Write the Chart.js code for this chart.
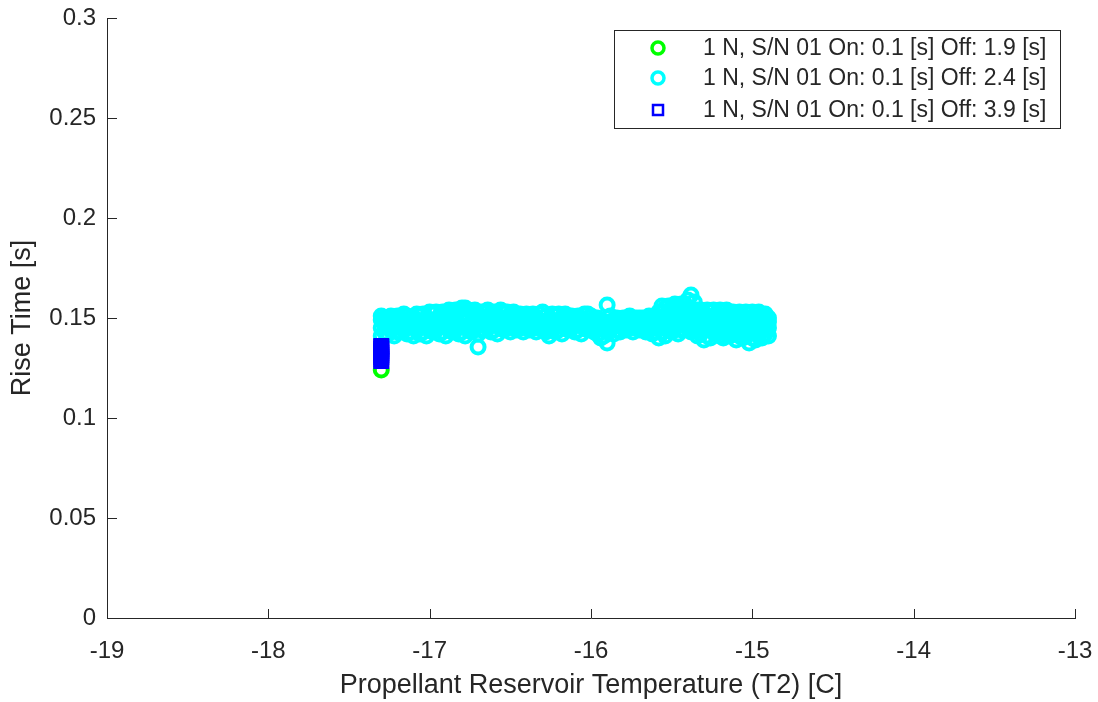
<!DOCTYPE html>
<html>
<head>
<meta charset="utf-8">
<script src="https://cdn.jsdelivr.net/npm/chart.js@4"></script>
<style>
  html, body { margin: 0; padding: 0; background: #fff; }
  #wrap { width: 1098px; height: 702px; position: relative; }
</style>
</head>
<body>
<div id="wrap"><canvas id="riseChart" width="1098" height="702"></canvas></div>
<script>
// Series labels
const seriesNames = [
    '1 N, S/N 01 On: 0.1 [s] Off: 1.9 [s]',
    '1 N, S/N 01 On: 0.1 [s] Off: 2.4 [s]',
    '1 N, S/N 01 On: 0.1 [s] Off: 3.9 [s]'
];

// Off 1.9 s (green)
const greenTemp = [-17.30];
const greenRise = [0.124];

// Off 3.9 s (blue squares, stacked at one temperature)
const blueTemp = [-17.30, -17.30, -17.30, -17.30, -17.30, -17.30, -17.30, -17.30, -17.30];
const blueRise = [0.1285, 0.1295, 0.1305, 0.1315, 0.1325, 0.1335, 0.1345, 0.1355, 0.1360];

// Off 2.4 s (cyan) - temperature columns and the rise times read at each
const cyanTemp = [
    -17.30, -17.26, -17.22, -17.18, -17.14, -17.10, -17.06, -17.02, -16.98, -16.94,
    -16.90, -16.86, -16.82, -16.78, -16.74, -16.70, -16.66, -16.62, -16.58, -16.54,
    -16.50, -16.46, -16.42, -16.38, -16.34, -16.30, -16.26, -16.22, -16.18, -16.14,
    -16.10, -16.06, -16.02, -15.98, -15.94, -15.90, -15.86, -15.82, -15.78, -15.74,
    -15.70, -15.66, -15.62, -15.58, -15.54, -15.50, -15.46, -15.42, -15.38, -15.34,
    -15.30, -15.26, -15.22, -15.18, -15.14, -15.10, -15.06, -15.02, -14.98, -14.94,
    -14.90
];
const cyanRise = [
    [0.141, 0.145, 0.149, 0.151], [0.142, 0.146, 0.150], [0.141, 0.145, 0.149], [0.143, 0.147, 0.150],
    [0.142, 0.146, 0.151], [0.141, 0.145, 0.149], [0.142, 0.147, 0.151], [0.141, 0.145, 0.150],
    [0.143, 0.147, 0.152], [0.142, 0.146, 0.151], [0.141, 0.146, 0.152], [0.143, 0.148, 0.153],
    [0.142, 0.147, 0.154], [0.141, 0.146, 0.151, 0.155], [0.143, 0.148, 0.153], [0.1355, 0.142, 0.147, 0.152],
    [0.144, 0.148, 0.153], [0.143, 0.147, 0.152], [0.142, 0.146, 0.151], [0.144, 0.149, 0.153],
    [0.143, 0.147, 0.152], [0.144, 0.148, 0.151], [0.143, 0.147, 0.150], [0.144, 0.148, 0.151],
    [0.143, 0.146, 0.150], [0.144, 0.148, 0.153], [0.141, 0.145, 0.149], [0.143, 0.147, 0.151],
    [0.142, 0.146, 0.150], [0.144, 0.148, 0.151], [0.143, 0.147, 0.150], [0.142, 0.146, 0.149],
    [0.144, 0.148, 0.152], [0.143, 0.147, 0.150], [0.140, 0.145, 0.149], [0.1375, 0.143, 0.147, 0.1565],
    [0.142, 0.146, 0.149], [0.143, 0.146, 0.149], [0.144, 0.147, 0.150], [0.143, 0.146, 0.149],
    [0.144, 0.147, 0.150], [0.143, 0.146, 0.149], [0.142, 0.146, 0.150], [0.140, 0.145, 0.149, 0.153],
    [0.141, 0.146, 0.151, 0.155], [0.143, 0.147, 0.152, 0.155], [0.142, 0.147, 0.151, 0.156], [0.144, 0.148, 0.153, 0.157],
    [0.143, 0.147, 0.152, 0.1615], [0.141, 0.146, 0.150, 0.154], [0.139, 0.144, 0.149, 0.152], [0.140, 0.145, 0.149, 0.153],
    [0.142, 0.146, 0.150, 0.152], [0.140, 0.145, 0.149, 0.153], [0.141, 0.146, 0.150, 0.153], [0.139, 0.143, 0.147, 0.152],
    [0.140, 0.145, 0.149, 0.151], [0.1375, 0.142, 0.147, 0.152], [0.139, 0.144, 0.148, 0.152], [0.140, 0.145, 0.149, 0.151],
    [0.141, 0.145, 0.148, 0.150]
];

// second pass of cyan readings, between the columns above
const cyanTempMid = [
    -17.28, -17.24, -17.20, -17.16, -17.12, -17.08, -17.04, -17.00, -16.96, -16.92,
    -16.88, -16.84, -16.80, -16.76, -16.72, -16.68, -16.64, -16.60, -16.56, -16.52,
    -16.48, -16.44, -16.40, -16.36, -16.32, -16.28, -16.24, -16.20, -16.16, -16.12,
    -16.08, -16.04, -16.00, -15.96, -15.92, -15.88, -15.84, -15.80, -15.76, -15.72,
    -15.68, -15.64, -15.60, -15.56, -15.52, -15.48, -15.44, -15.40, -15.36, -15.32,
    -15.28, -15.24, -15.20, -15.16, -15.12, -15.08, -15.04, -15.00, -14.96, -14.92
];
const cyanRiseMid = [
    [0.143, 0.147, 0.150], [0.144, 0.148, 0.151], [0.143, 0.147, 0.151], [0.144, 0.148, 0.152],
    [0.143, 0.147, 0.150], [0.144, 0.149, 0.152], [0.143, 0.148, 0.152], [0.144, 0.149, 0.153],
    [0.144, 0.149, 0.153], [0.143, 0.148, 0.153], [0.144, 0.150, 0.154], [0.144, 0.149, 0.154],
    [0.143, 0.149, 0.155], [0.144, 0.149, 0.154], [0.145, 0.150, 0.154], [0.144, 0.149, 0.153],
    [0.145, 0.150, 0.154], [0.144, 0.149, 0.153], [0.145, 0.150, 0.154], [0.145, 0.150, 0.153],
    [0.145, 0.150, 0.153], [0.145, 0.149, 0.152], [0.145, 0.149, 0.152], [0.145, 0.150, 0.152],
    [0.145, 0.149, 0.152], [0.143, 0.147, 0.151], [0.144, 0.149, 0.152], [0.144, 0.148, 0.152],
    [0.145, 0.149, 0.152], [0.145, 0.149, 0.151], [0.144, 0.148, 0.151], [0.145, 0.149, 0.152],
    [0.144, 0.148, 0.151], [0.142, 0.146, 0.150], [0.141, 0.145, 0.148], [0.144, 0.148, 0.151],
    [0.144, 0.147, 0.150], [0.145, 0.148, 0.150], [0.145, 0.148, 0.151], [0.145, 0.148, 0.150],
    [0.145, 0.148, 0.150], [0.144, 0.148, 0.151], [0.143, 0.147, 0.151], [0.143, 0.148, 0.153, 0.156],
    [0.144, 0.149, 0.153, 0.156], [0.145, 0.149, 0.153, 0.157], [0.144, 0.149, 0.154, 0.157], [0.145, 0.150, 0.155, 0.159],
    [0.144, 0.149, 0.154, 0.158], [0.142, 0.147, 0.151, 0.154], [0.141, 0.146, 0.151, 0.154], [0.143, 0.147, 0.151, 0.154],
    [0.141, 0.147, 0.151, 0.154], [0.142, 0.147, 0.151, 0.154], [0.142, 0.146, 0.150, 0.153], [0.141, 0.146, 0.150, 0.153],
    [0.141, 0.145, 0.150, 0.153], [0.140, 0.145, 0.149, 0.153], [0.141, 0.146, 0.150, 0.153], [0.142, 0.146, 0.150, 0.152]
];

// Axis ticks
const xTicks = [-19, -18, -17, -16, -15, -14, -13];
const yTicks = [0, 0.05, 0.1, 0.15, 0.2, 0.25, 0.3];

const axisColor = '#262626';
const fontName = '"Liberation Sans", Arial, sans-serif';

function toPoints(xs, ys) {
    return xs.map((x, i) => ({ x: x, y: ys[i] }));
}

function columnPoints(temps, rises) {
    let pts = [];
    temps.forEach((t, i) => {
        rises[i].forEach(r => pts.push({ x: t, y: r }));
    });
    return pts;
}

const cyanPoints = columnPoints(cyanTemp, cyanRise).concat(columnPoints(cyanTempMid, cyanRiseMid));

// Inward tick marks, MATLAB style
const innerTicks = {
    id: 'innerTicks',
    afterDraw(chart) {
        const ctx = chart.ctx;
        const xs = chart.scales.x;
        const ys = chart.scales.y;
        ctx.save();
        ctx.strokeStyle = axisColor;
        ctx.lineWidth = 1;
        ctx.beginPath();
        xTicks.forEach(v => {
            const px = Math.round(xs.getPixelForValue(v)) + 0.5;
            ctx.moveTo(px, ys.bottom);
            ctx.lineTo(px, ys.bottom - 9);
        });
        yTicks.forEach(v => {
            const py = Math.round(ys.getPixelForValue(v)) + 0.5;
            ctx.moveTo(xs.left, py);
            ctx.lineTo(xs.left + 10, py);
        });
        ctx.stroke();
        ctx.restore();
    }
};

// Boxed legend inside the axes
const boxLegend = {
    id: 'boxLegend',
    afterDraw(chart) {
        const ctx = chart.ctx;
        const left = 614, top = 30, w = 446, h = 98;
        ctx.save();
        ctx.fillStyle = '#fff';
        ctx.fillRect(left, top, w, h);
        ctx.strokeStyle = axisColor;
        ctx.lineWidth = 1;
        ctx.strokeRect(left + 0.5, top + 0.5, w, h);
        const rows = [48, 78, 110];
        chart.data.datasets.forEach((ds, i) => {
            const y = rows[i];
            ctx.strokeStyle = ds.borderColor;
            ctx.beginPath();
            if (ds.pointStyle === 'rect') {
                ctx.lineWidth = 2.5;
                ctx.rect(658 - 5, y - 5, 10, 10);
            } else {
                ctx.lineWidth = 3.5;
                ctx.arc(658, y, 6, 0, Math.PI * 2);
            }
            ctx.stroke();
            ctx.fillStyle = axisColor;
            ctx.font = '23px ' + fontName;
            ctx.textBaseline = 'middle';
            ctx.textAlign = 'left';
            ctx.fillText(seriesNames[i], 703, y + 1);
        });
        ctx.restore();
    }
};

const riseCanvas = document.getElementById('riseChart');

let riseChart = new Chart(riseCanvas, {
    type: 'scatter',
    data: {
        datasets: [{
            label: seriesNames[0],
            data: toPoints(greenTemp, greenRise),
            borderColor: '#00ff00',
            backgroundColor: 'rgba(0,0,0,0)',
            pointStyle: 'circle',
            pointRadius: 6.5,
            borderWidth: 4,
            order: 3
        }, {
            label: seriesNames[1],
            data: cyanPoints,
            borderColor: '#00ffff',
            backgroundColor: 'rgba(0,0,0,0)',
            pointStyle: 'circle',
            pointRadius: 6.5,
            borderWidth: 4,
            order: 2
        }, {
            label: seriesNames[2],
            data: toPoints(blueTemp, blueRise),
            borderColor: '#0000ff',
            backgroundColor: 'rgba(0,0,0,0)',
            pointStyle: 'rect',
            pointRadius: 9.5,
            borderWidth: 2.5,
            order: 1
        }]
    },
    options: {
        responsive: false,
        animation: false,
        events: [],
        layout: {
            padding: { top: 18, right: 23, left: 0, bottom: 0 }
        },
        scales: {
            x: {
                type: 'linear',
                min: -19,
                max: -13,
                afterBuildTicks: s => { s.ticks = xTicks.map(v => ({ value: v })); },
                afterFit: s => { s.height = 84; s.paddingLeft = 0; s.paddingRight = 0; },
                grid: { display: false },
                border: { display: true, color: axisColor, width: 1 },
                ticks: {
                    color: axisColor,
                    font: { family: fontName, size: 24 },
                    padding: 11,
                    maxRotation: 0,
                    callback: v => String(v)
                },
                title: {
                    display: true,
                    text: 'Propellant Reservoir Temperature (T2) [C]',
                    color: axisColor,
                    font: { family: fontName, size: 27 },
                    padding: { top: 0, bottom: 0 }
                }
            },
            y: {
                type: 'linear',
                min: 0,
                max: 0.3,
                afterBuildTicks: s => { s.ticks = yTicks.map(v => ({ value: v })); },
                afterFit: s => { s.width = 107; },
                grid: { display: false },
                border: { display: true, color: axisColor, width: 1 },
                ticks: {
                    color: axisColor,
                    font: { family: fontName, size: 24 },
                    padding: 3,
                    callback: v => String(+v.toFixed(2))
                },
                title: {
                    display: true,
                    text: 'Rise Time [s]',
                    color: axisColor,
                    font: { family: fontName, size: 27 },
                    padding: { top: 6, bottom: 0 }
                }
            }
        },
        plugins: {
            legend: { display: false },
            tooltip: { enabled: false }
        }
    },
    plugins: [innerTicks, boxLegend]
});
</script>
</body>
</html>
